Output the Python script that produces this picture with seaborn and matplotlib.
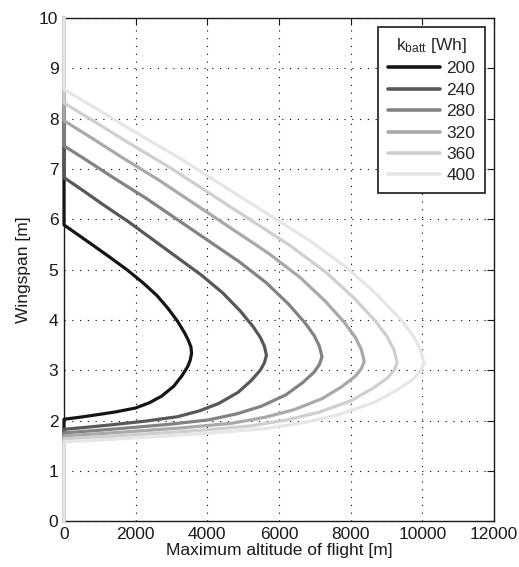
import matplotlib
matplotlib.use("Agg")
import matplotlib.pyplot as plt
import pandas as pd
import seaborn as sns

# Battery capacity of each configuration [Wh]
capacities = [200, 240, 280, 320, 360, 400]

# Wingspan [m] and maximum flight altitude [m] for each battery capacity
wingspan_200 = [0, 2.03, 2.069, 2.109, 2.174, 2.253, 2.358, 2.489, 2.685, 2.895, 3.078, 3.209, 3.34,
                3.468, 3.595, 3.748, 3.978, 4.233, 4.488, 4.743, 4.998, 5.253, 5.508, 5.712, 5.89, 10]
altitude_200 = [0, 0, 427, 819, 1424, 1994, 2385, 2723, 3062, 3293, 3453, 3524, 3560,
                3542, 3471, 3364, 3168, 2901, 2594, 2200, 1760, 1270, 766, 356, 0, 0]

wingspan_240 = [0, 1.83, 1.874, 1.918, 1.992, 2.080, 2.198, 2.345, 2.565, 2.800, 3.006, 3.153, 3.30,
                3.477, 3.653, 3.865, 4.183, 4.536, 4.889, 5.242, 5.595, 5.948, 6.301, 6.583, 6.83, 10]
altitude_240 = [0, 0, 678, 1300, 2260, 3164, 3786, 4322, 4859, 5226, 5481, 5594, 5650,
                5594, 5481, 5283, 4916, 4435, 3842, 3164, 2486, 1808, 1074, 509, 0, 0]

wingspan_280 = [0, 1.76, 1.805, 1.851, 1.926, 2.017, 2.138, 2.289, 2.515, 2.757, 2.968, 3.119, 3.27,
                3.48, 3.689, 3.94, 4.318, 4.737, 5.156, 5.575, 5.994, 6.413, 6.832, 7.167, 7.46, 10]
altitude_280 = [0, 0, 864, 1656, 2880, 4032, 4824, 5508, 6192, 6660, 6984, 7128, 7200,
                7128, 6984, 6732, 6264, 5652, 4896, 4032, 3168, 2304, 1368, 648, 0, 0]

wingspan_320 = [0, 1.70, 1.744, 1.789, 1.863, 1.952, 2.07, 2.218, 2.44, 2.677, 2.884, 3.032, 3.18,
                3.419, 3.658, 3.945, 4.375, 4.853, 5.331, 5.809, 6.287, 6.765, 7.243, 7.625, 7.96, 10]
altitude_320 = [0, 0, 1006, 1927, 3352, 4693, 5615, 6411, 7207, 7752, 8129, 8296, 8380,
                8296, 8129, 7835, 7291, 6578, 5698, 4693, 3687, 2682, 1592, 754, 0, 0]

wingspan_360 = [0, 1.64, 1.685, 1.731, 1.806, 1.897, 2.018, 2.169, 2.395, 2.637, 2.848, 2.999, 3.15,
                3.408, 3.666, 3.976, 4.44, 4.956, 5.472, 5.988, 6.504, 7.02, 7.536, 7.949, 8.31, 10]
altitude_360 = [0, 0, 1116, 2139, 3720, 5208, 6231, 7115, 7998, 8603, 9021, 9207, 9300,
                9207, 9021, 8696, 8091, 7301, 6324, 5208, 4092, 2976, 1767, 837, 0, 0]

wingspan_400 = [0, 1.58, 1.627, 1.674, 1.752, 1.845, 1.97, 2.126, 2.36, 2.61, 2.828, 2.984, 3.14,
                3.412, 3.684, 4.01, 4.5, 5.044, 5.588, 6.132, 6.676, 7.22, 7.764, 8.199, 8.58, 10]
altitude_400 = [0, 0, 1206, 2312, 4020, 5628, 6734, 7688, 8643, 9296, 9749, 9950, 10050,
                9950, 9749, 9397, 8744, 7889, 6834, 5628, 4422, 3216, 1910, 905, 0, 0]

x_ticks = [0, 2000, 4000, 6000, 8000, 10000, 12000]
y_ticks = [0, 1, 2, 3, 4, 5, 6, 7, 8, 9, 10]

series = {
    200: (wingspan_200, altitude_200),
    240: (wingspan_240, altitude_240),
    280: (wingspan_280, altitude_280),
    320: (wingspan_320, altitude_320),
    360: (wingspan_360, altitude_360),
    400: (wingspan_400, altitude_400),
}

frames = []
for cap in capacities:
    span, alt = series[cap]
    frames.append(pd.DataFrame({"wingspan": span, "altitude": alt, "k_batt": str(cap)}))
df = pd.concat(frames, ignore_index=True)

sns.set_style("white")
plt.rcParams["font.family"] = ["Liberation Sans", "DejaVu Sans"]
plt.rcParams["mathtext.fontset"] = "custom"
plt.rcParams["mathtext.rm"] = "Liberation Sans"
plt.rcParams["mathtext.it"] = "Liberation Sans"

grays = ["#151515", "#585858", "#838383", "#a9a9a9", "#cfcfcf", "#e6e6e6"]
hue_order = [str(c) for c in capacities]

fig = plt.figure(figsize=(5.19, 5.67), dpi=100)
ax = fig.add_axes([0.1233, 0.0803, 0.8285, 0.888])

sns.lineplot(data=df, x="altitude", y="wingspan", hue="k_batt", hue_order=hue_order,
             palette=grays, sort=False, estimator=None, linewidth=2.3, ax=ax)

for line in ax.lines:
    line.set_clip_on(False)
    line.set_zorder(3)
    line.set_solid_joinstyle("round")

ax.set_xlim(0, 12000)
ax.set_ylim(0, 10)
ax.set_xticks(x_ticks)
ax.set_yticks(y_ticks)
ax.set_xticklabels([str(t) for t in x_ticks])
ax.set_yticklabels([str(t) for t in y_ticks])

ax.set_axisbelow(True)
ax.grid(True, color="black", linestyle=(0, (1, 6)), linewidth=0.8)

for side in ["left", "right", "top", "bottom"]:
    ax.spines[side].set_visible(True)
    ax.spines[side].set_color("#1a1a1a")
    ax.spines[side].set_linewidth(1.0)

ax.tick_params(direction="in", top=True, right=True, length=5, width=0.8,
               labelsize=12.5, colors="#1a1a1a", pad=4)

ax.set_xlabel("Maximum altitude of flight [m]", fontsize=12.5, color="#1a1a1a", labelpad=1)
ax.set_ylabel("Wingspan [m]", fontsize=12.5, color="#1a1a1a", labelpad=6)

handles, labels = ax.get_legend_handles_labels()
leg = ax.legend(handles, labels, title=r"k$_{\rm batt}$ [Wh]", loc="upper right",
                bbox_to_anchor=(0.979, 0.983), borderaxespad=0, fontsize=12.5,
                title_fontsize=12.5, handlelength=3.0, labelspacing=0.36,
                handletextpad=0.4, borderpad=0.55, fancybox=False, framealpha=1,
                edgecolor="#1a1a1a")
leg.get_frame().set_linewidth(1.2)
for h in leg.get_lines():
    h.set_linewidth(2.6)

fig.savefig("out.png", dpi=100)
